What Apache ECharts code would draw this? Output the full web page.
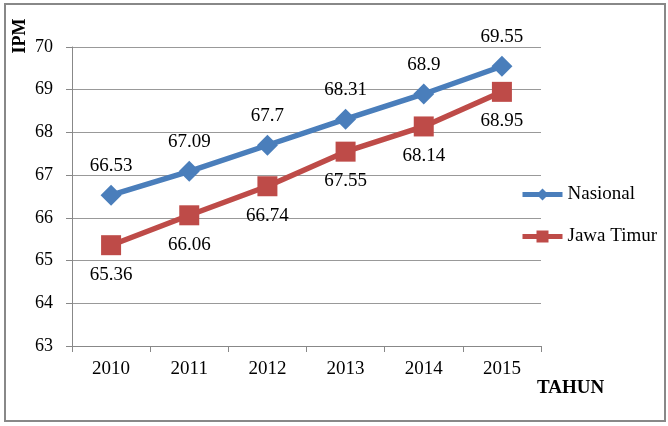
<!DOCTYPE html>
<html><head><meta charset="utf-8">
<script src="https://cdn.jsdelivr.net/npm/echarts@6/dist/echarts.min.js"></script>
<style>html,body{margin:0;padding:0;background:#fff}#c{width:668px;height:426px}</style>
</head><body><div id="c"></div>
<script>
var years = ['2010','2011','2012','2013','2014','2015'];
var nasional = [66.53, 67.09, 67.7, 68.31, 68.9, 69.55];
var jatim = [65.36, 66.06, 66.74, 67.55, 68.14, 68.95];
var yTicks = [63, 64, 65, 66, 67, 68, 69, 70];
var F = '"Liberation Serif", "Times New Roman", serif';
var chart = echarts.init(document.getElementById('c'));
chart.setOption({
  animation: false,
  backgroundColor: '#fff',
  graphic: [
    {type:'rect', shape:{x:5,y:4,width:660,height:417}, style:{fill:'none', stroke:'#888', lineWidth:2}},
    {type:'text', x:20, y:36, rotation:Math.PI/2, style:{text:'IPM', font:'bold 18px '+F, fill:'#000', align:'center', verticalAlign:'middle'}},
    {type:'text', x:537, y:388, style:{text:'TAHUN', font:'bold 19px '+F, fill:'#000', align:'left', verticalAlign:'middle'}}
  ],
  grid: {left:72, right:127, top:47, bottom:80},
  legend: {
    orient:'vertical', left:515, top:180, itemGap:23, itemWidth:40, itemHeight:15,
    lineStyle:{width:5},
    textStyle:{fontFamily:F, fontSize:19, color:'#000'},
    data:['Nasional','Jawa Timur']
  },
  xAxis: {
    type:'category', data:years, boundaryGap:true,
    axisLine:{lineStyle:{color:'#888'}},
    axisTick:{show:true, length:6, lineStyle:{color:'#888'}},
    axisLabel:{fontFamily:F, fontSize:19, color:'#000', margin:14}
  },
  yAxis: {
    type:'value', min:63, max:70, interval:1,
    axisLine:{show:true, lineStyle:{color:'#888'}},
    axisTick:{show:true, length:6, lineStyle:{color:'#888'}},
    splitLine:{lineStyle:{color:'#999'}},
    axisLabel:{fontFamily:F, fontSize:18, color:'#000', margin:19}
  },
  series: [
    {name:'Nasional', type:'line', data:nasional, symbol:'diamond', symbolSize:21,
     itemStyle:{color:'#4a7ebb'}, lineStyle:{width:5.5, color:'#4a7ebb'},
     label:{show:true, position:'top', distance:9, fontFamily:F, fontSize:19, color:'#000'}},
    {name:'Jawa Timur', type:'line', data:jatim, symbol:'rect', symbolSize:20,
     itemStyle:{color:'#be4b48'}, lineStyle:{width:5.5, color:'#be4b48'},
     label:{show:true, position:'bottom', distance:10, fontFamily:F, fontSize:19, color:'#000'}}
  ]
});
</script></body></html>
